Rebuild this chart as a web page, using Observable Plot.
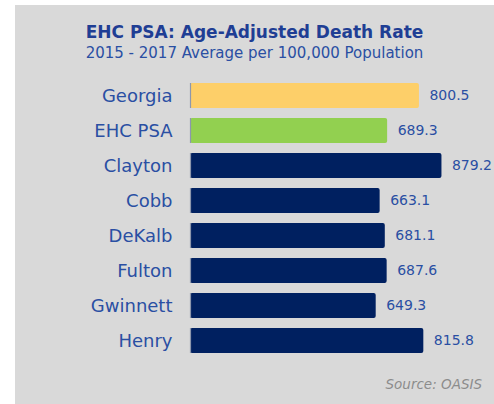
<!DOCTYPE html>
<html>
<head>
<meta charset="utf-8">
<script src="https://cdn.jsdelivr.net/npm/d3@7"></script>
<script src="https://cdn.jsdelivr.net/npm/@observablehq/plot@0.6"></script>
<style>
  html, body { margin: 0; padding: 0; background: #ffffff; }
  #box { position: absolute; left: 15px; top: 5px; width: 479px; height: 399px; background: #d9d9d9; font-family: "DejaVu Sans", sans-serif; }
  #title { position: absolute; left: 0; width: 479px; top: 18.6px; text-align: center; font-weight: bold; font-size: 17px; line-height: 1; color: #1f3e94; }
  #subtitle { position: absolute; left: 0; width: 479px; top: 41.3px; text-align: center; font-size: 15px; line-height: 1; color: #2a4fa3; }
  #chart { position: absolute; left: 0; top: 60px; }
  #source { position: absolute; right: 12px; top: 372.6px; font-size: 13.5px; line-height: 1; font-style: italic; color: #8c8c8c; }
</style>
</head>
<body>
<div id="box">
  <div id="title">EHC PSA: Age-Adjusted Death Rate</div>
  <div id="subtitle">2015 - 2017 Average per 100,000 Population</div>
  <div id="chart"></div>
  <div id="source">Source: OASIS</div>
</div>
<script>
const categories = ["Georgia", "EHC PSA", "Clayton", "Cobb", "DeKalb", "Fulton", "Gwinnett", "Henry"];
const rates = [800.5, 689.3, 879.2, 663.1, 681.1, 687.6, 649.3, 815.8];
const barColors = ["#fdcf69", "#92d050", "#002060", "#002060", "#002060", "#002060", "#002060", "#002060"];

const data = categories.map((c, i) => ({name: c, value: rates[i], color: barColors[i]}));

const chart = Plot.plot({
  width: 479,
  height: 300,
  marginLeft: 175,
  marginRight: 18,
  marginTop: 7,
  marginBottom: 2,
  style: {background: "transparent", color: "#2a4fa3", fontFamily: "DejaVu Sans, sans-serif"},
  x: {domain: [0, 1000], axis: null},
  y: {domain: categories, padding: 0.289, label: null},
  marks: [
    Plot.barX(data, {y: "name", x: "value", fill: "color", rx: 2}),
    Plot.tickX(data, {y: "name", x: 0, stroke: "#8d97ad", strokeWidth: 1.2}),
    Plot.text(data, {y: "name", x: "value", text: d => d.value.toFixed(1), dx: 10, textAnchor: "start", fill: "#2a4fa3", fontSize: 14}),
    Plot.axisY({tickSize: 0, tickPadding: 18, fontSize: 18, label: null})
  ]
});
document.getElementById("chart").appendChild(chart);
</script>
</body>
</html>
